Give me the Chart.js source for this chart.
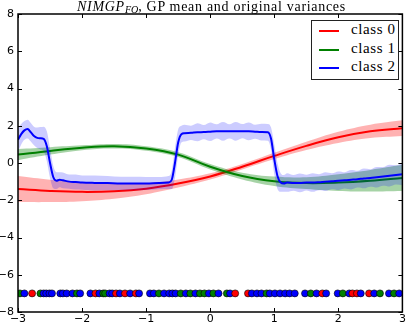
<!DOCTYPE html>
<html>
<head>
<meta charset="utf-8">
<script src="https://cdn.jsdelivr.net/npm/chart.js@4.4.1/dist/chart.umd.min.js"></script>
<style>
  html, body { margin: 0; padding: 0; background: #fff; }
  #wrap { position: relative; width: 407px; height: 325px; overflow: hidden; }
  #gpChart { position: absolute; left: 0; top: 0; }
  .chart-title {
    position: absolute; left: 18px; width: 387px; top: 0px; line-height: 14px;
    text-align: center; white-space: nowrap; color: #000;
    font-family: "Liberation Serif", serif; font-size: 14px; letter-spacing: 0.7px;
  }
  .chart-title sub { font-size: 10px; vertical-align: -2px; line-height: 0; letter-spacing: 0; }
  .legend-box {
    position: absolute; left: 311px; top: 20px; width: 88px; height: 60px;
    box-sizing: border-box; border: 1px solid #222; background: #fff;
    font-family: "Liberation Serif", serif; font-size: 15px; color: #000;
  }
  .legend-row { position: absolute; left: 0; width: 100%; height: 18px; }
  .legend-line { position: absolute; left: 7px; width: 20px; height: 2px; top: 8px; }
  .legend-label { position: absolute; left: 39px; top: -1px; letter-spacing: 0.6px; }
</style>
</head>
<body>
<div id="wrap">
  <canvas id="gpChart" width="407" height="325"></canvas>
  <div class="chart-title"><i>NIMGP<sub>FO</sub></i>, GP mean and original variances</div>
  <div class="legend-box" id="legendBox"></div>
</div>
<script>
const classNames = ["class 0", "class 1", "class 2"];
const classColors = ["#ff0000", "#008000", "#0000ff"];
const bandColors = ["rgba(255, 0, 0, 0.3)", "rgba(0, 128, 0, 0.35)", "rgba(0, 0, 255, 0.2)"];

const xTickValues = [-3, -2, -1, 0, 1, 2, 3];
const yTickValues = [-8, -6, -4, -2, 0, 2, 4, 6, 8];

// class 0 and class 1: smooth curves
const smoothXs = [-3, -2.5, -2, -1.5, -1, -0.5, 0, 0.5, 1, 1.5, 2, 2.5, 3];
const class0Mean = [-1.4, -1.5, -1.55, -1.52, -1.38, -1.1, -0.72, -0.2, 0.38, 0.92, 1.38, 1.7, 1.87];
const class0Spread = [0.7, 0.6, 0.5, 0.4, 0.3, 0.22, 0.17, 0.15, 0.17, 0.22, 0.3, 0.36, 0.42];
const class1Mean = [0.45, 0.65, 0.82, 0.9, 0.78, 0.45, -0.2, -0.7, -0.98, -1.08, -1.05, -0.95, -0.8];
const class1Spread = [0.3, 0.2, 0.13, 0.12, 0.12, 0.13, 0.15, 0.18, 0.25, 0.32, 0.45, 0.58, 0.7];

// class 2: step-like curve
const class2Xs = [
  -3, -2.95, -2.9, -2.85, -2.8, -2.75, -2.7, -2.65, -2.6, -2.55, -2.5, -2.45, -2.4, -2.35, -2.3,
  -2.2, -2.1, -2.0, -1.8, -1.6, -1.4, -1.2, -1.0, -0.8, -0.65, -0.6, -0.55, -0.5, -0.45, -0.4,
  -0.3, -0.2, -0.1, 0, 0.1, 0.2, 0.3, 0.4, 0.5, 0.6, 0.7, 0.8, 0.9, 0.95, 1.0, 1.05, 1.1, 1.15,
  1.2, 1.3, 1.4, 1.5, 1.6, 1.7, 1.8, 1.9, 2.0, 2.1, 2.2, 2.3, 2.4, 2.5, 2.6, 2.7, 2.8, 2.9, 3.0,
];
const class2Mean = [
  1.25, 1.55, 1.75, 1.82, 1.65, 1.45, 1.35, 1.33, 1.3, 0.9, 0.0, -0.75, -0.95, -0.9, -0.93,
  -1.0, -1.02, -1.05, -1.07, -1.08, -1.1, -1.1, -1.1, -1.08, -1.05, -0.9, 0.0, 1.1, 1.55, 1.6,
  1.62, 1.65, 1.66, 1.68, 1.7, 1.7, 1.7, 1.7, 1.71, 1.7, 1.68, 1.66, 1.65, 1.3, 0.2, -0.7, -1.05, -1.1,
  -1.05, -1.07, -1.07, -1.05, -1.05, -1.03, -1.0, -0.98, -0.95, -0.93, -0.9, -0.87, -0.83, -0.8, -0.76, -0.72, -0.68, -0.64, -0.6,
];
const class2Spread = [
  0.65, 0.55, 0.5, 0.5, 0.5, 0.5, 0.55, 0.6, 0.65, 0.8, 0.8, 0.6, 0.45, 0.4, 0.42,
  0.38, 0.4, 0.38, 0.4, 0.38, 0.36, 0.36, 0.35, 0.33, 0.35, 0.5, 0.8, 0.7, 0.45, 0.45,
  0.38, 0.48, 0.38, 0.5, 0.38, 0.5, 0.38, 0.5, 0.38, 0.48, 0.38, 0.45, 0.45, 0.6, 0.8, 0.7, 0.5, 0.45,
  0.5, 0.42, 0.5, 0.42, 0.5, 0.43, 0.5, 0.43, 0.5, 0.44, 0.52, 0.45, 0.53, 0.47, 0.55, 0.5, 0.58, 0.52, 0.6,
];

// training inputs shown as a row of dots
const dotRowY = -7;
const dotXs = [
  -2.97, -2.9, -2.78, -2.65, -2.6, -2.56, -2.51, -2.47, -2.34, -2.3, -2.24, -2.15, -2.08, -2.03,
  -1.87, -1.79, -1.73, -1.67, -1.64, -1.57, -1.53, -1.47, -1.41, -1.33, -1.25, -1.16, -1.11,
  -0.94, -0.88, -0.8, -0.72, -0.64, -0.59, -0.54, -0.46, -0.38, -0.31, -0.23, -0.16, -0.09, -0.02,
  0.05, 0.13, 0.26, 0.31, 0.39, 0.59, 0.65, 0.73, 0.8, 0.88, 0.93, 1.01, 1.09, 1.17, 1.24, 1.32,
  1.48, 1.57, 1.66, 1.75, 1.81, 1.99, 2.07, 2.17, 2.22, 2.29, 2.35, 2.48, 2.56, 2.65, 2.79, 2.87, 2.95,
];
const dotClasses = [
  1, 2, 0, 1, 2, 2, 2, 2, 2, 2, 2, 2, 1, 2,
  2, 0, 2, 1, 1, 2, 2, 0, 2, 0, 2, 0, 2,
  2, 2, 1, 2, 2, 2, 2, 1, 2, 1, 2, 1, 1, 2,
  1, 2, 1, 2, 0, 0, 2, 2, 2, 1, 2, 2, 2, 2, 2, 2,
  2, 1, 2, 0, 2, 2, 1, 2, 0, 0, 2, 0, 2, 1, 2, 1, 2,
];

let gpChartInstance = null;

function toPoints(xs, mean, spread, sign) {
  return xs.map((x, i) => ({ x, y: mean[i] + sign * spread[i] }));
}

function formatTick(value) {
  return value < 0 ? "\u2212" + Math.abs(value) : String(value);
}

function classDatasets(k, xs, mean, spread, baseIndex, baseOrder, smooth) {
  const curve = smooth ? { tension: 0.4 } : { cubicInterpolationMode: "monotone" };
  return [
    {
      data: toPoints(xs, mean, spread, -1),
      borderWidth: 0,
      pointRadius: 0,
      fill: false,
      order: baseOrder + 2,
      ...curve,
    },
    {
      data: toPoints(xs, mean, spread, 1),
      borderWidth: 0,
      pointRadius: 0,
      backgroundColor: bandColors[k],
      fill: baseIndex,
      order: baseOrder + 1,
      ...curve,
    },
    {
      data: toPoints(xs, mean, spread, 0),
      borderColor: classColors[k],
      borderWidth: 2,
      pointRadius: 0,
      fill: false,
      order: baseOrder,
      ...curve,
    },
  ];
}

const frameTicks = {
  id: "frameTicks",
  afterDraw(chart) {
    const { ctx, chartArea: a, scales } = chart;
    ctx.save();
    ctx.strokeStyle = "#000";
    ctx.lineWidth = 1;
    ctx.beginPath();
    xTickValues.forEach((v) => {
      const px = Math.round(scales.x.getPixelForValue(v)) + 0.5;
      ctx.moveTo(px, a.top);
      ctx.lineTo(px, a.top + 4);
      ctx.moveTo(px, a.bottom);
      ctx.lineTo(px, a.bottom - 4);
    });
    yTickValues.forEach((v) => {
      const py = Math.round(scales.y.getPixelForValue(v)) + 0.5;
      ctx.moveTo(a.left, py);
      ctx.lineTo(a.left + 4, py);
      ctx.moveTo(a.right, py);
      ctx.lineTo(a.right - 4, py);
    });
    ctx.stroke();
    ctx.lineWidth = 1.5;
    ctx.strokeRect(a.left, a.top, a.right - a.left, a.bottom - a.top);
    ctx.restore();
  },
};

function renderLegend() {
  const box = document.getElementById("legendBox");
  if (!box) return;
  box.innerHTML = classNames
    .map(
      (name, k) => `
    <div class="legend-row" style="top:${1 + k * 18.5}px">
      <div class="legend-line" style="background:${classColors[k]}"></div>
      <span class="legend-label">${name}</span>
    </div>
  `,
    )
    .join("");
}

function buildChart() {
  const ctx = document.getElementById("gpChart");
  if (!ctx) return;

  const dotDataset = {
    type: "scatter",
    data: dotXs.map((x) => ({ x, y: dotRowY })),
    pointRadius: 3.5,
    pointBackgroundColor: dotClasses.map((c) => classColors[c]),
    pointBorderColor: "#000",
    pointBorderWidth: 0.6,
    showLine: false,
    order: 0,
  };

  const datasets = [
    ...classDatasets(0, smoothXs, class0Mean, class0Spread, 0, 7, true),
    ...classDatasets(1, smoothXs, class1Mean, class1Spread, 3, 4, true),
    ...classDatasets(2, class2Xs, class2Mean, class2Spread, 6, 1, false),
    dotDataset,
  ];

  const tickFont = { family: "DejaVu Sans", size: 11 };

  gpChartInstance = new Chart(ctx, {
    type: "line",
    data: { datasets },
    options: {
      responsive: false,
      animation: false,
      layout: { padding: { top: 14, right: 2, left: 0, bottom: 0 } },
      plugins: {
        legend: { display: false },
        tooltip: { enabled: false },
      },
      scales: {
        x: {
          type: "linear",
          min: -3,
          max: 3,
          afterBuildTicks: (scale) => {
            scale.ticks = xTickValues.map((value) => ({ value }));
          },
          afterFit: (scale) => {
            scale.height = 13;
          },
          ticks: {
            callback: formatTick,
            font: tickFont,
            color: "#000",
            padding: 1,
            maxRotation: 0,
            autoSkip: false,
          },
          grid: { display: false, drawTicks: false, tickLength: 0 },
          border: { display: false },
        },
        y: {
          type: "linear",
          min: -8,
          max: 8,
          afterBuildTicks: (scale) => {
            scale.ticks = yTickValues.map((value) => ({ value }));
          },
          afterFit: (scale) => {
            scale.width = 18;
          },
          ticks: {
            callback: formatTick,
            font: tickFont,
            color: "#000",
            padding: 4,
            autoSkip: false,
          },
          grid: { display: false, drawTicks: false, tickLength: 0 },
          border: { display: false },
        },
      },
    },
    plugins: [frameTicks],
  });
}

document.addEventListener("DOMContentLoaded", function () {
  renderLegend();
  buildChart();
});
</script>
</body>
</html>
